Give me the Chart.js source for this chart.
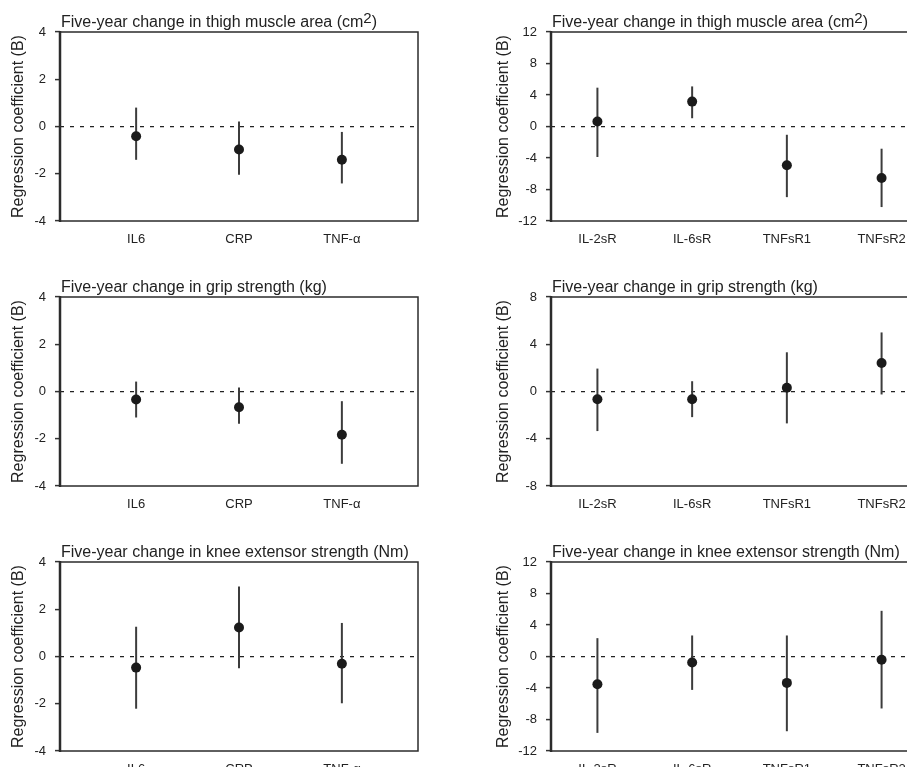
<!DOCTYPE html>
<html>
<head>
<meta charset="utf-8">
<script src="https://cdn.jsdelivr.net/npm/chart.js@4.4.0/dist/chart.umd.min.js"></script>
<style>
  html, body { margin: 0; padding: 0; background: #fff; overflow: hidden; width: 907px; height: 767px; }
  canvas { position: absolute; }
</style>
</head>
<body>
<canvas id="thighCyto" width="440" height="265" style="left:0;top:0"></canvas>
<canvas id="thighRec" width="500" height="265" style="left:453px;top:0"></canvas>
<canvas id="gripCyto" width="440" height="265" style="left:0;top:265px"></canvas>
<canvas id="gripRec" width="500" height="265" style="left:453px;top:265px"></canvas>
<canvas id="kneeCyto" width="440" height="265" style="left:0;top:530px"></canvas>
<canvas id="kneeRec" width="500" height="265" style="left:453px;top:530px"></canvas>
<script>
// categories
const cytokines = ['IL6', 'CRP', 'TNF-\u03b1'];
const receptors = ['IL-2sR', 'IL-6sR', 'TNFsR1', 'TNFsR2'];

// titles: normal text, superscript, normal text ...
const titleThigh = ['Five-year change in thigh muscle area (cm', '2', ')'];
const titleGrip = ['Five-year change in grip strength (kg)'];
const titleKnee = ['Five-year change in knee extensor strength (Nm)'];
const yLabel = 'Regression coefficient (B)';

// y tick labels
const cytoTicks = [-4, -2, 0, 2, 4];
const thighRecTicks = [-12, -8, -4, 0, 4, 8, 12];
const gripRecTicks = [-8, -4, 0, 4, 8];
const kneeRecTicks = [-12, -8, -4, 0, 4, 8, 12];

// thigh muscle area: estimate, lower, upper
const thighCytoB  = [-0.41, -0.97, -1.41];
const thighCytoLo = [-1.41, -2.04, -2.41];
const thighCytoHi = [0.80, 0.21, -0.23];
const thighRecB  = [0.63, 3.16, -4.93, -6.53];
const thighRecLo = [-3.87, 1.05, -8.97, -10.23];
const thighRecHi = [4.93, 5.09, -1.05, -2.82];

// grip strength
const gripCytoB  = [-0.34, -0.67, -1.83];
const gripCytoLo = [-1.10, -1.36, -3.06];
const gripCytoHi = [0.42, 0.17, -0.41];
const gripRecB  = [-0.65, -0.65, 0.31, 2.42];
const gripRecLo = [-3.35, -2.17, -2.70, -0.25];
const gripRecHi = [1.94, 0.87, 3.32, 5.00];

// knee extensor strength
const kneeCytoB  = [-0.47, 1.23, -0.31];
const kneeCytoLo = [-2.21, -0.50, -1.98];
const kneeCytoHi = [1.26, 2.96, 1.42];
const kneeRecB  = [-3.52, -0.76, -3.35, -0.42];
const kneeRecLo = [-9.70, -4.24, -9.49, -6.60];
const kneeRecHi = [2.33, 2.67, 2.67, 5.80];

const FONT = '"Liberation Sans", Arial, Helvetica, sans-serif';

// title above the plot, starts at the left edge of the plot area
const panelTitle = {
  id: 'panelTitle',
  afterDraw(chart, args, opts) {
    const ctx = chart.ctx;
    const a = chart.chartArea;
    let x = a.left + 1;
    const y = a.top - 5;
    ctx.save();
    ctx.fillStyle = '#222';
    ctx.textAlign = 'left';
    ctx.textBaseline = 'alphabetic';
    opts.parts.forEach((p, i) => {
      const sup = i % 2 === 1;
      ctx.font = (sup ? '15px ' : '16px ') + FONT;
      ctx.fillText(p, x, sup ? y - 4 : y);
      x += ctx.measureText(p).width;
    });
    ctx.restore();
  }
};

// frame around the plot area
const plotBox = {
  id: 'plotBox',
  beforeDatasetsDraw(chart) {
    const {ctx, chartArea: a} = chart;
    ctx.save();
    ctx.strokeStyle = '#2b2b2b';
    ctx.lineWidth = 1.5;
    ctx.strokeRect(a.left, a.top, a.right - a.left, a.bottom - a.top);
    ctx.lineWidth = 2.5;
    ctx.beginPath();
    ctx.moveTo(a.left, a.top - 1);
    ctx.lineTo(a.left, a.bottom + 1);
    ctx.stroke();
    ctx.restore();
  }
};

function makePanel(id, cats, est, lo, hi, yTicks, title) {
  const wide = cats.length === 4;

  const whiskers = cats.map((c, i) => ({
    type: 'line',
    data: [{x: i + 1, y: lo[i]}, {x: i + 1, y: hi[i]}],
    borderColor: '#3c3c3c',
    borderWidth: 2,
    pointRadius: 0,
    order: 1
  }));

  const points = {
    type: 'scatter',
    data: est.map((v, i) => ({x: i + 1, y: v})),
    backgroundColor: '#1b1b1b',
    borderWidth: 0,
    pointRadius: 5,
    order: 0
  };

  new Chart(document.getElementById(id), {
    type: 'scatter',
    data: {datasets: whiskers.concat([points])},
    plugins: [plotBox, panelTitle],
    options: {
      responsive: false,
      animation: false,
      events: [],
      layout: {padding: {top: 32, left: 0, right: wide ? 25 : 22, bottom: 0}},
      plugins: {
        legend: {display: false},
        tooltip: {enabled: false},
        panelTitle: {parts: title}
      },
      scales: {
        x: {
          type: 'linear',
          min: wide ? 0.51 : 0.26,
          max: wide ? 4.49 : 3.74,
          afterBuildTicks: s => { s.ticks = cats.map((c, i) => ({value: i + 1})); },
          afterFit: s => { s.height = 44; },
          grid: {display: false},
          border: {display: false},
          ticks: {
            callback: v => cats[Math.round(v) - 1],
            font: {family: FONT, size: 13},
            color: '#222',
            padding: 3,
            maxRotation: 0,
            autoSkip: false
          }
        },
        y: {
          min: yTicks[0],
          max: yTicks[yTicks.length - 1],
          afterBuildTicks: s => { s.ticks = yTicks.map(v => ({value: v})); },
          afterFit: s => { s.width = wide ? 98 : 60; },
          grid: {
            color: c => (c.tick && c.tick.value === 0) ? '#222' : 'rgba(0,0,0,0)',
            lineWidth: 1.2,
            tickColor: '#333',
            tickLength: 5,
            tickWidth: 1.5
          },
          border: {display: false, dash: [4, 6]},
          ticks: {
            font: {family: FONT, size: 13},
            color: '#222',
            padding: 9
          },
          title: {
            display: true,
            text: yLabel,
            font: {family: FONT, size: 16},
            color: '#222',
            padding: {top: wide ? 41 : 9, bottom: 0}
          }
        }
      }
    }
  });
}

makePanel('thighCyto', cytokines, thighCytoB, thighCytoLo, thighCytoHi, cytoTicks, titleThigh);
makePanel('thighRec', receptors, thighRecB, thighRecLo, thighRecHi, thighRecTicks, titleThigh);
makePanel('gripCyto', cytokines, gripCytoB, gripCytoLo, gripCytoHi, cytoTicks, titleGrip);
makePanel('gripRec', receptors, gripRecB, gripRecLo, gripRecHi, gripRecTicks, titleGrip);
makePanel('kneeCyto', cytokines, kneeCytoB, kneeCytoLo, kneeCytoHi, cytoTicks, titleKnee);
makePanel('kneeRec', receptors, kneeRecB, kneeRecLo, kneeRecHi, kneeRecTicks, titleKnee);
</script>
</body>
</html>
